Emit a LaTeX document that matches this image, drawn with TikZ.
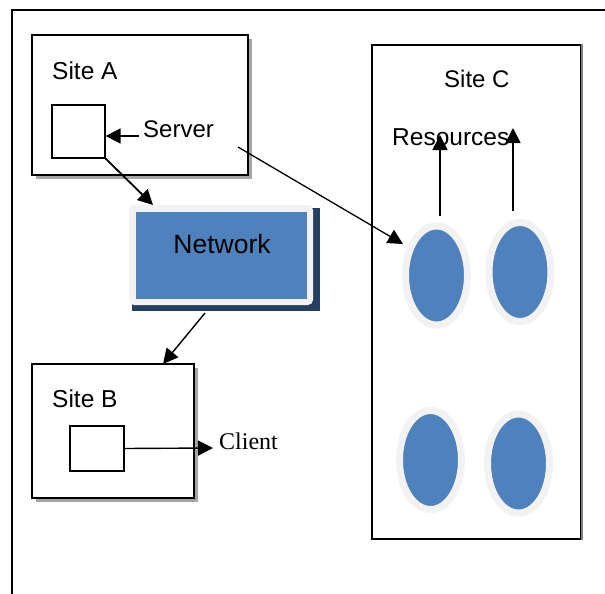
\documentclass[tikz,border=0pt]{standalone}
\usepackage{fontspec}
\setmainfont{Liberation Sans}
\newfontfamily\clientfont{Liberation Serif}
\usetikzlibrary{arrows.meta,shapes.geometric}

\definecolor{netblue}{HTML}{4F81BD}
\definecolor{netshadow}{HTML}{243F60}
\definecolor{ringgray}{HTML}{F2F2F2}
\definecolor{boxshadow}{HTML}{A6A6A6}

\tikzset{
  sitebox/.style={draw=black, line width=2.6pt, fill=white, inner sep=0pt},
  hostbox/.style={draw=black, line width=1.3pt, fill=white, inner sep=0pt},
  resource/.style={ellipse, fill=netblue, draw=ringgray, line width=7pt,
    minimum width=62pt, minimum height=99pt, inner sep=0pt},
  sitetext/.style={inner sep=0pt, anchor=base west, font=\fontsize{24.5}{28}\selectfont},
  arr/.style={-{Triangle[length=15pt 0,width=15pt 0]}, line width=1.6pt},
}

\begin{document}
\begin{tikzpicture}[x=1pt,y=-1pt]
\useasboundingbox (0,0) rectangle (605,594);
\fill[white] (0,0) rectangle (605,594);

% outer frame (top and left edges)
\draw[line width=2pt] (12,594) -- (12,10) -- (605,10);

% Site A with drop shadow
\fill[boxshadow] (36,39) rectangle (252,179);
\node[sitebox, minimum width=216pt, minimum height=140pt] (siteA) at (140,105) {};
\node[sitetext] (siteAlbl) at (52,79) {Site A};
\node[hostbox, minimum width=53pt, minimum height=53pt] (sqA) at (78.5,131.5) {};
\node[sitetext, font=\fontsize{24}{28}\selectfont] (server) at (143,137) {Server};

% Site B with drop shadow
\fill[boxshadow] (36,368) rectangle (198,502);
\node[sitebox, minimum width=162pt, minimum height=134pt] (siteB) at (113,431) {};
\node[sitetext] (siteBlbl) at (52,407) {Site B};
\node[hostbox, minimum width=54pt, minimum height=45pt] (sqB) at (97,448.5) {};
\node[inner sep=0pt, anchor=base west, font=\clientfont\fontsize{24}{28}\selectfont] (client) at (219,449) {Client};

% Network block
\fill[netshadow] (132,208) rectangle (320,311);
\fill[ringgray, rounded corners=5pt] (129,205) rectangle (313,305);
\node[fill=netblue, minimum width=171pt, minimum height=87pt, inner sep=0pt] (net) at (221.5,255.5) {};
\node[inner sep=0pt, anchor=base, font=\fontsize{26.5}{30}\selectfont] (netlbl) at (222,253) {Network};

% Site C
\node[draw=black, line width=1.1pt, fill=white, minimum width=209pt, minimum height=494pt, inner sep=0pt] (siteC) at (476.5,292) {};
\draw[gray, line width=2pt] (siteC.north east) -- (siteC.south east);
\node[sitetext, font=\fontsize{24}{28}\selectfont] (siteClbl) at (444,88) {Site C};
\node[sitetext] (res) at (392,145) {Resources};

% resources
\node[resource] (r1) at (436.5,275.5) {};
\node[resource] (r2) at (520,272) {};
\node[resource] (r3) at (430.5,460) {};
\node[resource] (r4) at (518.5,463.5) {};

% connector ends
\coordinate (srvTail) at (139,136);
\coordinate (netIn) at (153,205);
\coordinate (srvOut) at (238,147);
\coordinate (rIn) at (403,244);
\coordinate (netOut) at (205,313);
\coordinate (bIn) at (163,364);
\coordinate (clientTip) at (213,448);
\coordinate (r1tail) at (440,216);
\coordinate (r1up) at (440,135);
\coordinate (r2tail) at (513,211);
\coordinate (r2up) at (513,128);

% connectors
\draw[arr, line width=1.8pt] (srvTail) -- (sqA.east |- srvTail);
\draw[arr, line width=1.8pt] (sqA.south east) -- (netIn);
\draw[arr, line width=1.3pt] (srvOut) -- (rIn);
\draw[arr, line width=1.4pt] (netOut) -- (bIn);
\draw[arr, line width=1.4pt] (sqB.east) -- (clientTip);
\draw[arr, line width=1.8pt] (r1tail) -- (r1up);
\draw[arr, line width=1.8pt] (r2tail) -- (r2up);
\end{tikzpicture}
\end{document}
